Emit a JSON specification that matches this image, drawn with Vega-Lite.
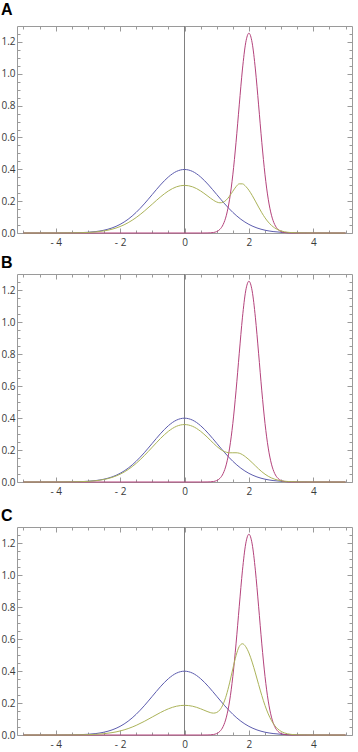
{
  "$schema": "https://vega.github.io/schema/vega-lite/v6.json",
  "padding": {"left": 0, "right": 5, "top": 1, "bottom": 0},
  "datasets": {
    "d": [
      {"p":"all","s":"blue","x":-5,"y":0},{"p":"all","s":"blue","x":-4.5,"y":0.00002},{"p":"all","s":"blue","x":-4,"y":0.00013},{"p":"all","s":"blue","x":-3.5,"y":0.00087},{"p":"all","s":"blue","x":-3.25,"y":0.00203},{"p":"all","s":"blue","x":-3,"y":0.00443},{"p":"all","s":"blue","x":-2.75,"y":0.00909},{"p":"all","s":"blue","x":-2.5,"y":0.01753},{"p":"all","s":"blue","x":-2.25,"y":0.03174},{"p":"all","s":"blue","x":-2,"y":0.05399},{"p":"all","s":"blue","x":-1.75,"y":0.08628},{"p":"all","s":"blue","x":-1.5,"y":0.12952},{"p":"all","s":"blue","x":-1.25,"y":0.18265},{"p":"all","s":"blue","x":-1,"y":0.24197},{"p":"all","s":"blue","x":-0.75,"y":0.30114},{"p":"all","s":"blue","x":-0.5,"y":0.35207},{"p":"all","s":"blue","x":-0.25,"y":0.38667},{"p":"all","s":"blue","x":0,"y":0.39894},{"p":"all","s":"blue","x":0.25,"y":0.38667},{"p":"all","s":"blue","x":0.5,"y":0.35207},{"p":"all","s":"blue","x":0.75,"y":0.30114},{"p":"all","s":"blue","x":1,"y":0.24197},{"p":"all","s":"blue","x":1.25,"y":0.18265},{"p":"all","s":"blue","x":1.5,"y":0.12952},{"p":"all","s":"blue","x":1.75,"y":0.08628},{"p":"all","s":"blue","x":2,"y":0.05399},{"p":"all","s":"blue","x":2.25,"y":0.03174},{"p":"all","s":"blue","x":2.5,"y":0.01753},{"p":"all","s":"blue","x":2.75,"y":0.00909},{"p":"all","s":"blue","x":3,"y":0.00443},{"p":"all","s":"blue","x":3.25,"y":0.00203},{"p":"all","s":"blue","x":3.5,"y":0.00087},{"p":"all","s":"blue","x":4,"y":0.00013},{"p":"all","s":"blue","x":4.5,"y":0.00002},{"p":"all","s":"blue","x":5,"y":0},
      {"p":"all","s":"red","x":-5,"y":0},{"p":"all","s":"red","x":0.5,"y":0},{"p":"all","s":"red","x":0.7,"y":0.0003},{"p":"all","s":"red","x":0.8,"y":0.001},{"p":"all","s":"red","x":0.9,"y":0.0032},{"p":"all","s":"red","x":1.0,"y":0.009},{"p":"all","s":"red","x":1.1,"y":0.023},{"p":"all","s":"red","x":1.2,"y":0.0532},{"p":"all","s":"red","x":1.3,"y":0.1116},{"p":"all","s":"red","x":1.4,"y":0.2121},{"p":"all","s":"red","x":1.5,"y":0.3652},{"p":"all","s":"red","x":1.6,"y":0.5695},{"p":"all","s":"red","x":1.7,"y":0.8047},{"p":"all","s":"red","x":1.8,"y":1.0301},{"p":"all","s":"red","x":1.9,"y":1.1945},{"p":"all","s":"red","x":2.0,"y":1.255},{"p":"all","s":"red","x":2.1,"y":1.1945},{"p":"all","s":"red","x":2.2,"y":1.0301},{"p":"all","s":"red","x":2.3,"y":0.8047},{"p":"all","s":"red","x":2.4,"y":0.5695},{"p":"all","s":"red","x":2.5,"y":0.3652},{"p":"all","s":"red","x":2.6,"y":0.2121},{"p":"all","s":"red","x":2.7,"y":0.1116},{"p":"all","s":"red","x":2.8,"y":0.0532},{"p":"all","s":"red","x":2.9,"y":0.023},{"p":"all","s":"red","x":3.0,"y":0.009},{"p":"all","s":"red","x":3.1,"y":0.0032},{"p":"all","s":"red","x":3.2,"y":0.001},{"p":"all","s":"red","x":3.3,"y":0.0003},{"p":"all","s":"red","x":3.5,"y":0},{"p":"all","s":"red","x":5,"y":0},
      {"p":"A","s":"yellow","x":-5,"y":0},{"p":"A","s":"yellow","x":-4.5,"y":0.00001},{"p":"A","s":"yellow","x":-4,"y":0.0001},{"p":"A","s":"yellow","x":-3.5,"y":0.00065},{"p":"A","s":"yellow","x":-3.25,"y":0.00152},{"p":"A","s":"yellow","x":-3,"y":0.00332},{"p":"A","s":"yellow","x":-2.75,"y":0.00682},{"p":"A","s":"yellow","x":-2.5,"y":0.01315},{"p":"A","s":"yellow","x":-2.25,"y":0.02381},{"p":"A","s":"yellow","x":-2,"y":0.04049},{"p":"A","s":"yellow","x":-1.75,"y":0.06471},{"p":"A","s":"yellow","x":-1.5,"y":0.09714},{"p":"A","s":"yellow","x":-1.25,"y":0.13699},{"p":"A","s":"yellow","x":-1,"y":0.18148},{"p":"A","s":"yellow","x":-0.75,"y":0.22586},{"p":"A","s":"yellow","x":-0.5,"y":0.26405},{"p":"A","s":"yellow","x":-0.25,"y":0.29},{"p":"A","s":"yellow","x":0,"y":0.29921},{"p":"A","s":"yellow","x":0.25,"y":0.29},{"p":"A","s":"yellow","x":0.5,"y":0.2641},{"p":"A","s":"yellow","x":0.6,"y":0.2502},{"p":"A","s":"yellow","x":0.7,"y":0.2352},{"p":"A","s":"yellow","x":0.8,"y":0.2198},{"p":"A","s":"yellow","x":0.9,"y":0.2056},{"p":"A","s":"yellow","x":1.0,"y":0.1947},{"p":"A","s":"yellow","x":1.1,"y":0.1897},{"p":"A","s":"yellow","x":1.2,"y":0.1934},{"p":"A","s":"yellow","x":1.3,"y":0.2077},{"p":"A","s":"yellow","x":1.4,"y":0.2319},{"p":"A","s":"yellow","x":1.5,"y":0.2621},{"p":"A","s":"yellow","x":1.6,"y":0.2907},{"p":"A","s":"yellow","x":1.7,"y":0.3087},{"p":"A","s":"yellow","x":1.8,"y":0.3086},{"p":"A","s":"yellow","x":1.9,"y":0.293},{"p":"A","s":"yellow","x":2.0,"y":0.2683},{"p":"A","s":"yellow","x":2.1,"y":0.2364},{"p":"A","s":"yellow","x":2.2,"y":0.2002},{"p":"A","s":"yellow","x":2.3,"y":0.1629},{"p":"A","s":"yellow","x":2.4,"y":0.1272},{"p":"A","s":"yellow","x":2.5,"y":0.0954},{"p":"A","s":"yellow","x":2.6,"y":0.0688},{"p":"A","s":"yellow","x":2.7,"y":0.0477},{"p":"A","s":"yellow","x":2.8,"y":0.0319},{"p":"A","s":"yellow","x":2.9,"y":0.0206},{"p":"A","s":"yellow","x":3.0,"y":0.0129},{"p":"A","s":"yellow","x":3.1,"y":0.0079},{"p":"A","s":"yellow","x":3.2,"y":0.0047},{"p":"A","s":"yellow","x":3.3,"y":0.0028},{"p":"A","s":"yellow","x":3.5,"y":0.001},{"p":"A","s":"yellow","x":3.75,"y":0.0003},{"p":"A","s":"yellow","x":4,"y":0.0001},{"p":"A","s":"yellow","x":4.5,"y":0},{"p":"A","s":"yellow","x":5,"y":0},
      {"p":"B","s":"yellow","x":-5,"y":0},{"p":"B","s":"yellow","x":-4.5,"y":0.00001},{"p":"B","s":"yellow","x":-4,"y":0.00012},{"p":"B","s":"yellow","x":-3.5,"y":0.00078},{"p":"B","s":"yellow","x":-3.25,"y":0.00183},{"p":"B","s":"yellow","x":-3,"y":0.00399},{"p":"B","s":"yellow","x":-2.75,"y":0.00818},{"p":"B","s":"yellow","x":-2.5,"y":0.01578},{"p":"B","s":"yellow","x":-2.25,"y":0.02857},{"p":"B","s":"yellow","x":-2,"y":0.04859},{"p":"B","s":"yellow","x":-1.75,"y":0.07765},{"p":"B","s":"yellow","x":-1.5,"y":0.11657},{"p":"B","s":"yellow","x":-1.25,"y":0.16439},{"p":"B","s":"yellow","x":-1,"y":0.21777},{"p":"B","s":"yellow","x":-0.75,"y":0.27103},{"p":"B","s":"yellow","x":-0.5,"y":0.31686},{"p":"B","s":"yellow","x":-0.25,"y":0.348},{"p":"B","s":"yellow","x":0,"y":0.35905},{"p":"B","s":"yellow","x":0.25,"y":0.348},{"p":"B","s":"yellow","x":0.5,"y":0.3169},{"p":"B","s":"yellow","x":0.6,"y":0.3},{"p":"B","s":"yellow","x":0.7,"y":0.2814},{"p":"B","s":"yellow","x":0.8,"y":0.2617},{"p":"B","s":"yellow","x":0.9,"y":0.2419},{"p":"B","s":"yellow","x":1.0,"y":0.2231},{"p":"B","s":"yellow","x":1.1,"y":0.2066},{"p":"B","s":"yellow","x":1.2,"y":0.1939},{"p":"B","s":"yellow","x":1.3,"y":0.1859},{"p":"B","s":"yellow","x":1.4,"y":0.1826},{"p":"B","s":"yellow","x":1.5,"y":0.1826},{"p":"B","s":"yellow","x":1.6,"y":0.1828},{"p":"B","s":"yellow","x":1.7,"y":0.1799},{"p":"B","s":"yellow","x":1.8,"y":0.1708},{"p":"B","s":"yellow","x":1.9,"y":0.1566},{"p":"B","s":"yellow","x":2.0,"y":0.1397},{"p":"B","s":"yellow","x":2.1,"y":0.1209},{"p":"B","s":"yellow","x":2.2,"y":0.1014},{"p":"B","s":"yellow","x":2.3,"y":0.0821},{"p":"B","s":"yellow","x":2.4,"y":0.0643},{"p":"B","s":"yellow","x":2.5,"y":0.0487},{"p":"B","s":"yellow","x":2.6,"y":0.0357},{"p":"B","s":"yellow","x":2.7,"y":0.0253},{"p":"B","s":"yellow","x":2.8,"y":0.0175},{"p":"B","s":"yellow","x":2.9,"y":0.0118},{"p":"B","s":"yellow","x":3.0,"y":0.0078},{"p":"B","s":"yellow","x":3.1,"y":0.0051},{"p":"B","s":"yellow","x":3.2,"y":0.0033},{"p":"B","s":"yellow","x":3.3,"y":0.0022},{"p":"B","s":"yellow","x":3.5,"y":0.0009},{"p":"B","s":"yellow","x":3.75,"y":0.0003},{"p":"B","s":"yellow","x":4,"y":0.0001},{"p":"B","s":"yellow","x":4.5,"y":0},{"p":"B","s":"yellow","x":5,"y":0},
      {"p":"C","s":"yellow","x":-5,"y":0},{"p":"C","s":"yellow","x":-4.5,"y":0.00001},{"p":"C","s":"yellow","x":-4,"y":0.00006},{"p":"C","s":"yellow","x":-3.5,"y":0.0004},{"p":"C","s":"yellow","x":-3.25,"y":0.00094},{"p":"C","s":"yellow","x":-3,"y":0.00206},{"p":"C","s":"yellow","x":-2.75,"y":0.00423},{"p":"C","s":"yellow","x":-2.5,"y":0.00815},{"p":"C","s":"yellow","x":-2.25,"y":0.01476},{"p":"C","s":"yellow","x":-2,"y":0.02511},{"p":"C","s":"yellow","x":-1.75,"y":0.04012},{"p":"C","s":"yellow","x":-1.5,"y":0.06023},{"p":"C","s":"yellow","x":-1.25,"y":0.08493},{"p":"C","s":"yellow","x":-1,"y":0.11252},{"p":"C","s":"yellow","x":-0.75,"y":0.14003},{"p":"C","s":"yellow","x":-0.5,"y":0.16371},{"p":"C","s":"yellow","x":-0.25,"y":0.1798},{"p":"C","s":"yellow","x":0,"y":0.18551},{"p":"C","s":"yellow","x":0.25,"y":0.1798},{"p":"C","s":"yellow","x":0.5,"y":0.1639},{"p":"C","s":"yellow","x":0.6,"y":0.1556},{"p":"C","s":"yellow","x":0.7,"y":0.1473},{"p":"C","s":"yellow","x":0.8,"y":0.1401},{"p":"C","s":"yellow","x":0.9,"y":0.1367},{"p":"C","s":"yellow","x":1.0,"y":0.1408},{"p":"C","s":"yellow","x":1.1,"y":0.1575},{"p":"C","s":"yellow","x":1.2,"y":0.1925},{"p":"C","s":"yellow","x":1.3,"y":0.249},{"p":"C","s":"yellow","x":1.4,"y":0.3256},{"p":"C","s":"yellow","x":1.5,"y":0.4132},{"p":"C","s":"yellow","x":1.6,"y":0.4957},{"p":"C","s":"yellow","x":1.7,"y":0.5534},{"p":"C","s":"yellow","x":1.8,"y":0.5703},{"p":"C","s":"yellow","x":1.9,"y":0.5522},{"p":"C","s":"yellow","x":2.0,"y":0.5126},{"p":"C","s":"yellow","x":2.1,"y":0.4557},{"p":"C","s":"yellow","x":2.2,"y":0.388},{"p":"C","s":"yellow","x":2.3,"y":0.3162},{"p":"C","s":"yellow","x":2.4,"y":0.2467},{"p":"C","s":"yellow","x":2.5,"y":0.1842},{"p":"C","s":"yellow","x":2.6,"y":0.1317},{"p":"C","s":"yellow","x":2.7,"y":0.0902},{"p":"C","s":"yellow","x":2.8,"y":0.0592},{"p":"C","s":"yellow","x":2.9,"y":0.0373},{"p":"C","s":"yellow","x":3.0,"y":0.0226},{"p":"C","s":"yellow","x":3.1,"y":0.0132},{"p":"C","s":"yellow","x":3.2,"y":0.0074},{"p":"C","s":"yellow","x":3.3,"y":0.0041},{"p":"C","s":"yellow","x":3.5,"y":0.0012},{"p":"C","s":"yellow","x":3.75,"y":0.0003},{"p":"C","s":"yellow","x":4,"y":0.0001},{"p":"C","s":"yellow","x":4.5,"y":0},{"p":"C","s":"yellow","x":5,"y":0}
    ]
  },
  "data": {"name": "d"},
  "spacing": 41,
  "bounds": "flush",
  "vconcat": [
    {
      "title": {"text": "A", "offset": 7.5},
      "width": 335, "height": 207,
      "transform": [{"filter": "datum.p === 'A' || datum.p === 'all'"}],
      "resolve": {"axis": {"x": "independent", "y": "independent"}},
      "layer": [
        {"mark": {"type": "rule", "color": "#808080", "strokeWidth": 1}, "encoding": {"x": {"datum": 0, "type": "quantitative", "scale": {"domain": [-5.2, 5.2], "nice": false, "zero": false}, "axis": null}}},
        {"mark": {"type": "line", "strokeWidth": 1, "interpolate": "monotone"},
         "encoding": {
           "x": {"field": "x", "type": "quantitative", "scale": {"domain": [-5.2, 5.2], "nice": false, "zero": false},
                 "axis": {"orient": "bottom", "title": null, "values": [-5,-4.5,-4,-3.5,-3,-2.5,-2,-1.5,-1,-0.5,0,0.5,1,1.5,2,2.5,3,3.5,4,4.5,5], "labelExpr": "datum.value % 2 === 0 ? (datum.value < 0 ? '- ' + (-datum.value) : '' + datum.value) : ''", "tickSize": {"condition": {"test": "datum.value % 2 === 0", "value": -5}, "value": -3}, "labelPadding": 9}},
           "y": {"field": "y", "type": "quantitative", "scale": {"domain": [0, 1.3], "nice": false, "zero": false},
                 "axis": {"orient": "left", "title": null, "values": [0,0.05,0.1,0.15,0.2,0.25,0.3,0.35,0.4,0.45,0.5,0.55,0.6,0.65,0.7,0.75,0.8,0.85,0.9,0.95,1,1.05,1.1,1.15,1.2,1.25], "labelExpr": "abs(datum.value*5 - round(datum.value*5)) < 0.001 ? format(datum.value, '.1f') : ''", "tickSize": {"condition": {"test": "abs(datum.value*5 - round(datum.value*5)) < 0.001", "value": -5}, "value": -3}, "labelPadding": 7}},
           "color": {"field": "s", "type": "nominal", "scale": {"domain": ["blue", "red", "yellow"], "range": ["#5c5cae", "#b4437c", "#abb359"]}, "legend": null},
           "detail": {"field": "p"}
         }},
        {"mark": {"type": "point", "opacity": 0},
         "encoding": {
           "x": {"field": "x", "type": "quantitative", "axis": {"orient": "top", "title": null, "labels": false, "values": [-5,-4.5,-4,-3.5,-3,-2.5,-2,-1.5,-1,-0.5,0,0.5,1,1.5,2,2.5,3,3.5,4,4.5,5], "tickSize": {"condition": {"test": "datum.value % 2 === 0", "value": -5}, "value": -3}}},
           "y": {"field": "y", "type": "quantitative", "axis": {"orient": "right", "title": null, "labels": false, "values": [0,0.05,0.1,0.15,0.2,0.25,0.3,0.35,0.4,0.45,0.5,0.55,0.6,0.65,0.7,0.75,0.8,0.85,0.9,0.95,1,1.05,1.1,1.15,1.2,1.25], "tickSize": {"condition": {"test": "abs(datum.value*5 - round(datum.value*5)) < 0.001", "value": -5}, "value": -3}}}
         }}
      ]
    },
    {
      "spacing": 45,
      "bounds": "flush",
      "vconcat": [
        {
          "title": {"text": "B", "offset": 3},
          "width": 335, "height": 208,
          "transform": [{"filter": "datum.p === 'B' || datum.p === 'all'"}],
          "resolve": {"axis": {"x": "independent", "y": "independent"}},
          "layer": [
            {"mark": {"type": "rule", "color": "#808080", "strokeWidth": 1}, "encoding": {"x": {"datum": 0, "type": "quantitative", "scale": {"domain": [-5.2, 5.2], "nice": false, "zero": false}, "axis": null}}},
            {"mark": {"type": "line", "strokeWidth": 1, "interpolate": "monotone"},
             "encoding": {
               "x": {"field": "x", "type": "quantitative", "scale": {"domain": [-5.2, 5.2], "nice": false, "zero": false},
                     "axis": {"orient": "bottom", "title": null, "values": [-5,-4.5,-4,-3.5,-3,-2.5,-2,-1.5,-1,-0.5,0,0.5,1,1.5,2,2.5,3,3.5,4,4.5,5], "labelExpr": "datum.value % 2 === 0 ? (datum.value < 0 ? '- ' + (-datum.value) : '' + datum.value) : ''", "tickSize": {"condition": {"test": "datum.value % 2 === 0", "value": -5}, "value": -3}, "labelPadding": 9}},
               "y": {"field": "y", "type": "quantitative", "scale": {"domain": [0, 1.3], "nice": false, "zero": false},
                     "axis": {"orient": "left", "title": null, "values": [0,0.05,0.1,0.15,0.2,0.25,0.3,0.35,0.4,0.45,0.5,0.55,0.6,0.65,0.7,0.75,0.8,0.85,0.9,0.95,1,1.05,1.1,1.15,1.2,1.25], "labelExpr": "abs(datum.value*5 - round(datum.value*5)) < 0.001 ? format(datum.value, '.1f') : ''", "tickSize": {"condition": {"test": "abs(datum.value*5 - round(datum.value*5)) < 0.001", "value": -5}, "value": -3}, "labelPadding": 7}},
               "color": {"field": "s", "type": "nominal", "scale": {"domain": ["blue", "red", "yellow"], "range": ["#5c5cae", "#b4437c", "#abb359"]}, "legend": null},
               "detail": {"field": "p"}
             }},
            {"mark": {"type": "point", "opacity": 0},
             "encoding": {
               "x": {"field": "x", "type": "quantitative", "axis": {"orient": "top", "title": null, "labels": false, "values": [-5,-4.5,-4,-3.5,-3,-2.5,-2,-1.5,-1,-0.5,0,0.5,1,1.5,2,2.5,3,3.5,4,4.5,5], "tickSize": {"condition": {"test": "datum.value % 2 === 0", "value": -5}, "value": -3}}},
               "y": {"field": "y", "type": "quantitative", "axis": {"orient": "right", "title": null, "labels": false, "values": [0,0.05,0.1,0.15,0.2,0.25,0.3,0.35,0.4,0.45,0.5,0.55,0.6,0.65,0.7,0.75,0.8,0.85,0.9,0.95,1,1.05,1.1,1.15,1.2,1.25], "tickSize": {"condition": {"test": "abs(datum.value*5 - round(datum.value*5)) < 0.001", "value": -5}, "value": -3}}}
             }}
          ]
        },
        {
          "title": {"text": "C", "offset": 3},
          "width": 335, "height": 208,
          "transform": [{"filter": "datum.p === 'C' || datum.p === 'all'"}],
          "resolve": {"axis": {"x": "independent", "y": "independent"}},
          "layer": [
            {"mark": {"type": "rule", "color": "#808080", "strokeWidth": 1}, "encoding": {"x": {"datum": 0, "type": "quantitative", "scale": {"domain": [-5.2, 5.2], "nice": false, "zero": false}, "axis": null}}},
            {"mark": {"type": "line", "strokeWidth": 1, "interpolate": "monotone"},
             "encoding": {
               "x": {"field": "x", "type": "quantitative", "scale": {"domain": [-5.2, 5.2], "nice": false, "zero": false},
                     "axis": {"orient": "bottom", "title": null, "values": [-5,-4.5,-4,-3.5,-3,-2.5,-2,-1.5,-1,-0.5,0,0.5,1,1.5,2,2.5,3,3.5,4,4.5,5], "labelExpr": "datum.value % 2 === 0 ? (datum.value < 0 ? '- ' + (-datum.value) : '' + datum.value) : ''", "tickSize": {"condition": {"test": "datum.value % 2 === 0", "value": -5}, "value": -3}, "labelPadding": 9}},
               "y": {"field": "y", "type": "quantitative", "scale": {"domain": [0, 1.3], "nice": false, "zero": false},
                     "axis": {"orient": "left", "title": null, "values": [0,0.05,0.1,0.15,0.2,0.25,0.3,0.35,0.4,0.45,0.5,0.55,0.6,0.65,0.7,0.75,0.8,0.85,0.9,0.95,1,1.05,1.1,1.15,1.2,1.25], "labelExpr": "abs(datum.value*5 - round(datum.value*5)) < 0.001 ? format(datum.value, '.1f') : ''", "tickSize": {"condition": {"test": "abs(datum.value*5 - round(datum.value*5)) < 0.001", "value": -5}, "value": -3}, "labelPadding": 7}},
               "color": {"field": "s", "type": "nominal", "scale": {"domain": ["blue", "red", "yellow"], "range": ["#5c5cae", "#b4437c", "#abb359"]}, "legend": null},
               "detail": {"field": "p"}
             }},
            {"mark": {"type": "point", "opacity": 0},
             "encoding": {
               "x": {"field": "x", "type": "quantitative", "axis": {"orient": "top", "title": null, "labels": false, "values": [-5,-4.5,-4,-3.5,-3,-2.5,-2,-1.5,-1,-0.5,0,0.5,1,1.5,2,2.5,3,3.5,4,4.5,5], "tickSize": {"condition": {"test": "datum.value % 2 === 0", "value": -5}, "value": -3}}},
               "y": {"field": "y", "type": "quantitative", "axis": {"orient": "right", "title": null, "labels": false, "values": [0,0.05,0.1,0.15,0.2,0.25,0.3,0.35,0.4,0.45,0.5,0.55,0.6,0.65,0.7,0.75,0.8,0.85,0.9,0.95,1,1.05,1.1,1.15,1.2,1.25], "tickSize": {"condition": {"test": "abs(datum.value*5 - round(datum.value*5)) < 0.001", "value": -5}, "value": -3}}}
             }}
          ]
        }
      ]
    }
  ],
  "config": {
    "view": {"stroke": "#9a9a9a", "strokeWidth": 1},
    "axis": {"domain": false, "grid": false, "tickColor": "#9a9a9a", "tickWidth": 1, "labelFont": "Open Sans", "labelFontSize": 10, "labelColor": "#3a3a3a", "labelFlush": false, "labelOverlap": false},
    "title": {"anchor": "start", "frame": "bounds", "font": "Liberation Sans", "fontSize": 16, "fontWeight": "bold", "color": "#000000"}
  }
}
